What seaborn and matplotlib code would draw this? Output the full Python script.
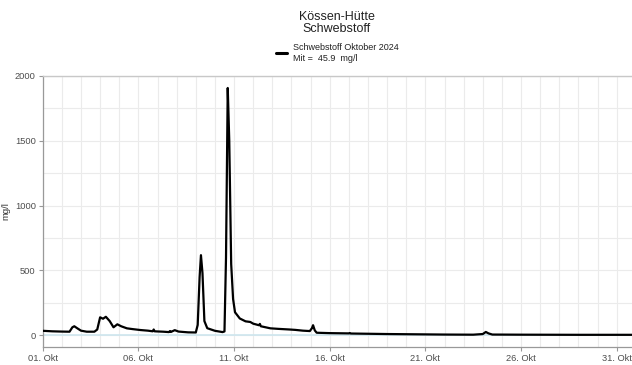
import numpy as np
import pandas as pd
import matplotlib
matplotlib.use("Agg")
import matplotlib.pyplot as plt
import matplotlib.dates as mdates
import seaborn as sns

# ---- data (day offset from 01 Oct 2024 00:00, value in mg/l) ----
day_offset = [0.0, 0.5, 1.0, 1.4, 1.55, 1.65, 1.8, 2.0, 2.3, 2.7, 2.85, 3.0, 3.15, 3.3,
              3.5, 3.7, 3.9, 4.1, 4.4, 4.7, 5.1, 5.5, 5.75, 5.8, 5.85, 6.3, 6.6, 6.65,
              6.7, 6.9, 7.1, 7.6, 8.0, 8.1, 8.2, 8.27, 8.35, 8.45, 8.6, 9.0, 9.4, 9.5,
              9.58, 9.67, 9.75, 9.85, 9.95, 10.05, 10.3, 10.6, 10.85, 11.0, 11.3, 11.35,
              11.4, 11.9, 12.3, 12.9, 13.2, 13.6, 13.96, 14.07, 14.13, 14.22, 14.32,
              15.0, 16.0, 16.05, 16.1, 18.0, 21.0, 22.5, 23.0, 23.16, 23.3, 23.5, 25.0,
              28.0, 30.8]
values = [35, 31, 29, 28, 62, 70, 55, 36, 28, 28, 45, 139, 128, 143,
          110, 62, 85, 70, 54, 48, 41, 36, 31, 45, 31, 28, 25, 33,
          26, 40, 29, 23, 22, 80, 450, 618, 480, 110, 55, 35, 25, 30,
          600, 1907, 1500, 550, 280, 178, 130, 108, 103, 90, 78, 88,
          70, 54, 50, 45, 42, 36, 33, 55, 78, 38, 20,
          17, 15, 18, 14, 10, 6, 5, 10, 26, 15, 6, 5,
          4, 4]
series_label = "Schwebstoff Oktober 2024\nMit =  45.9  mg/l"
title_text = "Kössen-Hütte\nSchwebstoff"
y_label = "mg/l"

start = pd.Timestamp("2024-10-01")
df = pd.DataFrame({
    "time": start + pd.to_timedelta(day_offset, unit="D"),
    "value": values,
})

sns.set_theme(style="white")
plt.rcParams["font.family"] = ["Liberation Sans", "DejaVu Sans"]

fig = plt.figure(figsize=(6.32, 3.65), dpi=100)
ax = fig.add_axes([0.0676, 0.050, 0.9324, 0.742])

# grid
grid_c = "#ebebeb"
ax.set_xlim(start, start + pd.Timedelta(days=30.8))
ax.set_ylim(-88, 2000)
ax.xaxis.set_major_locator(mdates.DayLocator(bymonthday=[1, 6, 11, 16, 21, 26, 31]))
ax.xaxis.set_minor_locator(mdates.DayLocator())
ax.xaxis.set_major_formatter(mdates.DateFormatter("%d. Okt"))
ax.set_yticks([0, 500, 1000, 1500, 2000])
ax.set_yticks([250, 750, 1250, 1750], minor=True)
ax.grid(True, which="both", color=grid_c, linewidth=0.8)
ax.set_axisbelow(True)

ax.axhline(0, color="#cde6ee", linewidth=1.2, zorder=1)

sns.lineplot(data=df, x="time", y="value", ax=ax, color="black", linewidth=1.6,
             label=series_label, zorder=3)

ax.spines["right"].set_visible(False)
ax.spines["top"].set_color("#c8c8c8")
ax.spines["top"].set_linewidth(1.0)
for s in ["left", "bottom"]:
    ax.spines[s].set_color("#999999")
    ax.spines[s].set_linewidth(0.9)

ax.tick_params(axis="both", which="major", length=3, width=0.8, color="#999999",
               labelsize=6.7, labelcolor="#4d4d4d", pad=2, bottom=True, left=True)
ax.tick_params(axis="both", which="minor", length=0)
ax.set_xlabel("")
ax.set_ylabel(y_label, fontsize=6.8, color="#333333")
ax.yaxis.set_label_coords(-0.055, 0.5)

fig.text(0.533, 0.97, title_text, ha="center", va="top", fontsize=9,
         color="#222222", linespacing=1.05)

leg = ax.legend(loc="lower center", bbox_to_anchor=(0.5, 1.035), frameon=False,
                fontsize=6.5, handlelength=1.2, handletextpad=0.6,
                borderaxespad=0.0)
for line in leg.get_lines():
    line.set_linewidth(2.2)
for t in leg.get_texts():
    t.set_linespacing(1.2)
    t.set_color("#222222")

fig.savefig("out.png", dpi=100)
